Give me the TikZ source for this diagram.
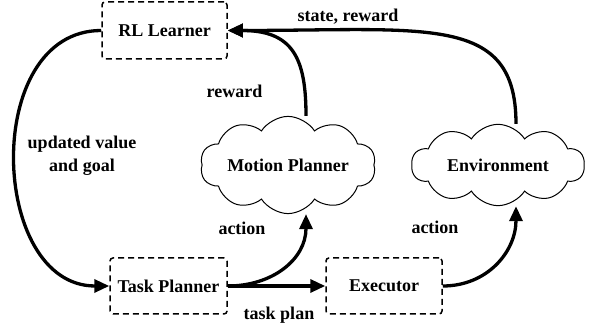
\documentclass[tikz,border=0pt]{standalone}
\usepackage{fontspec}
\setmainfont{Liberation Serif}
\usetikzlibrary{shapes.symbols,arrows.meta}
\begin{document}
\begin{tikzpicture}[x=1pt,y=1pt,
  txt/.style={font=\fontsize{18}{23}\selectfont\bfseries},
  dbox/.style={draw, dash pattern=on 6pt off 4pt, line width=1.5pt, rounded corners=3pt, txt, inner sep=0pt},
  cl/.style={cloud, draw, line width=1pt, cloud puffs=10, cloud puff arc=115, aspect=2.4, minimum width=173pt, minimum height=73pt, inner sep=0pt, txt},
  conn/.style={line width=3.3pt, -{Triangle[length=15pt,width=13pt]}},
  lbl/.style={txt, inner sep=0pt}
]
\useasboundingbox (0,0) rectangle (595,326);
\node[dbox, minimum width=125pt, minimum height=57pt] (rl) at (164.5,295.5) {RL Learner};
\node[dbox, minimum width=117pt, minimum height=56pt] (tp) at (168.5,40) {Task Planner};
\node[dbox, minimum width=116pt, minimum height=56pt] (ex) at (384,40) {Executor};
\node[cl] (mp) at (288,161) {Motion Planner};
\node[cl] (env) at (498,161) {Environment};

\draw[conn] (rl.west) .. controls +(-120,0) and +(-120,0) .. (tp.west);
\draw[conn] ([xshift=18pt]env.north) .. controls +(0,110) and +(200,0) .. (rl.east);
\draw[conn] ([xshift=18pt]mp.north) .. controls +(0,58) and +(65,0) .. (rl.east);
\draw[conn] (tp.east) .. controls +(45,0) and +(0,-45) .. ([xshift=18pt]mp.south);
\draw[conn] (tp.east) -- (ex.west);
\draw[conn] (ex.east) .. controls +(45,0) and +(0,-45) .. ([xshift=18pt]env.south);

\node[lbl] (l1) at (348,309) {state, reward};
\node[lbl] (l2) at (234.5,235) {reward};
\node[lbl, align=center] (l3) at (82,170) {updated value\\and goal};
\node[lbl] (l4) at (242,98) {action};
\node[lbl] (l5) at (435,99) {action};
\node[lbl] (l6) at (279,11) {task plan};
\end{tikzpicture}
\end{document}
